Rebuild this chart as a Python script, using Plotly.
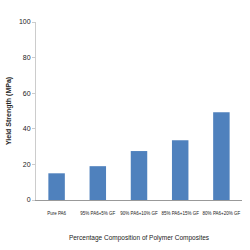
import plotly.graph_objects as go

categories = ["Pure PA6", "95% PA6+5% GF", "90% PA6+10% GF", "85% PA6+15% GF", "80% PA6+20% GF"]
yield_strength = [15, 19, 27.5, 33.5, 49.3]
y_ticks = [0, 20, 40, 60, 80, 100]

fig = go.Figure(go.Bar(x=categories, y=yield_strength, marker=dict(color="#4F81BD", line=dict(width=0))))
fnt = "Liberation Sans, Arial, sans-serif"
fig.update_layout(
    width=250, height=250,
    margin=dict(l=34, r=8, t=22, b=50),
    paper_bgcolor="white", plot_bgcolor="white",
    bargap=0.6, showlegend=False,
    font=dict(family=fnt, color="#222222"),
)
fig.update_xaxes(
    showline=True, linecolor="#999999", linewidth=1, showgrid=False, ticks="",
    tickfont=dict(size=4.5, family=fnt), tickangle=0, ticklabelstandoff=9,
    title=dict(text="Percentage Composition of Polymer Composites", font=dict(size=6.5, family=fnt), standoff=20),
)
fig.update_yaxes(
    range=[0, 100], tickvals=y_ticks, showline=True, linecolor="#cccccc", linewidth=1,
    showgrid=False, ticks="outside", ticklen=3, tickcolor="#cccccc",
    tickfont=dict(size=7, family=fnt),
    title=dict(text="<b>Yield Strength (MPa)</b>", font=dict(size=7, family=fnt), standoff=6),
    zeroline=False,
)
fig.write_html("out.html")
